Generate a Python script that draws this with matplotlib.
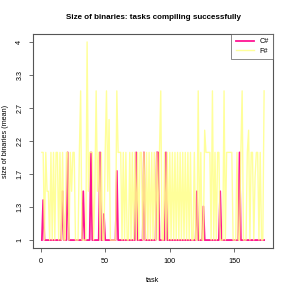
import matplotlib
matplotlib.use("Agg")
import matplotlib.pyplot as plt
import numpy as np

plt.rcParams['font.family'] = ['Liberation Sans', 'DejaVu Sans']

# task index
tasks = np.arange(1, 174)

# C# mean binary size per task (mostly 1)
csharp_peaks = {2: 1.4, 17: 1.5, 21: 2, 33: 1.5, 39: 2, 46: 2, 49: 1.25, 59: 1.75,
                74: 2, 80: 2, 90: 2, 91: 2, 97: 2, 121: 1.5, 126: 1.33, 139: 1.5, 154: 2}
csharp = [csharp_peaks.get(t, 1.0) for t in tasks]

# F# mean binary size per task
fsharp = [
    2, 2, 1, 2, 1.5, 1.5, 1, 2, 1, 2,
    1, 2, 2, 1, 2, 1, 2, 1, 1, 2,
    2, 1, 2, 1.5, 2, 2, 1, 1, 1, 2,
    3, 1, 1, 1, 1, 4, 1.5, 2, 2, 2,
    1, 1.5, 3, 1.5, 2, 1, 2, 1, 1, 2,
    3, 1.5, 2.5, 1, 1, 1, 1, 1, 3, 2,
    2, 2, 1, 2, 1, 2, 1, 1, 2, 1,
    2, 1, 2, 1, 2, 1, 2, 2, 1, 2,
    1, 2, 1, 2, 1, 2, 1, 2, 1, 2,
    1, 2, 3, 1, 1, 2, 1, 2, 1, 2,
    1, 2, 1, 2, 1, 2, 1, 2, 1, 2,
    1, 2, 1, 2, 1, 2, 1, 1, 2, 1,
    1, 3, 1, 2, 1, 1, 2.33, 2, 2, 2,
    2, 1, 3, 1, 2, 1, 2, 2, 1, 1,
    1, 3, 1, 2, 2, 2, 2, 2, 1, 1,
    1, 2, 1, 1, 2, 3, 1, 1, 1, 2,
    2.33, 1, 2, 2, 1, 1.67, 2, 2, 1, 2,
    1, 1, 3,
]

ytick_labels = ['1', '1.3', '1.7', '2.2', '2.7', '3.3', '4']
xticks = [0, 50, 100, 150]

pink = '#FF1493'
yellow = '#FFFF88'

fig = plt.figure(figsize=(2.91, 2.91), dpi=100)
ax = fig.add_axes([33 / 291, 43 / 291, 240 / 291, 214 / 291])

# cube-root y axis
ax.set_yscale('function', functions=(np.cbrt, lambda v: np.power(v, 3)))

ax.plot(tasks, csharp, color=pink, lw=1.3, label='C#')
ax.plot(tasks, fsharp, color=yellow, lw=1.0, alpha=0.85, label='F#')

pad_x = (tasks[-1] - tasks[0]) * 0.04
ax.set_xlim(tasks[0] - pad_x, tasks[-1] + pad_x)
lo, hi = np.cbrt(1.0), np.cbrt(4.0)
pad_y = (hi - lo) * 0.04
ax.set_ylim((lo - pad_y) ** 3, (hi + pad_y) ** 3)

ax.set_xticks(xticks)
ax.set_xticklabels([str(t) for t in xticks])
ax.set_yticks(np.linspace(lo, hi, len(ytick_labels)) ** 3)
ax.set_yticklabels(ytick_labels, rotation=90, va='center')
ax.minorticks_off()

for s in ax.spines.values():
    s.set_color('#555555')
    s.set_linewidth(0.8)
ax.tick_params(axis='both', labelsize=5.2, length=3, width=0.6, color='#555555', pad=4)

ax.set_title('Size of binaries: tasks compiling successfully', fontsize=5.8,
             fontweight='bold', pad=11)
ax.set_xlabel('task', fontsize=5.2, labelpad=9)
ax.set_ylabel('size of binaries (mean)', fontsize=5.2, labelpad=5)

leg = ax.legend(loc='upper right', fontsize=5.2, frameon=True, fancybox=False,
                borderaxespad=0, handlelength=2.5, borderpad=0.6, labelspacing=0.3)
leg.get_frame().set_edgecolor('#555555')
leg.get_frame().set_linewidth(0.6)

fig.savefig('out.png', dpi=100)
